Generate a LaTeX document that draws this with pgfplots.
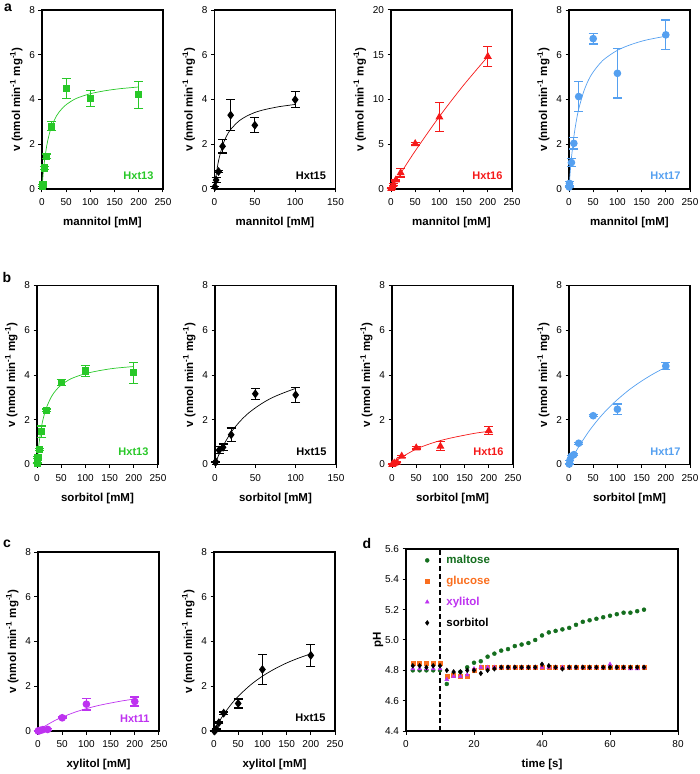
\documentclass[border=0pt]{standalone}
\usepackage{pgfplots}
\pgfplotsset{compat=1.18}
\usepackage{fontspec}
\setmainfont{Liberation Sans}
\definecolor{cgreen}{RGB}{40,200,40}
\definecolor{cblue}{RGB}{85,160,240}
\definecolor{cred}{RGB}{245,25,25}
\definecolor{cpurple}{RGB}{190,50,240}
\definecolor{cdgreen}{RGB}{20,110,30}
\definecolor{corange}{RGB}{250,110,30}
\pgfplotsset{
  base/.style={
    scale only axis, anchor=south west, clip=false,
    axis line style={line width=1.2pt},
    tick align=outside, xtick pos=bottom, ytick pos=left, major tick length=3.5pt,
    every tick/.style={line width=1pt, black},
    tick label style={font=\fontsize{10}{12}\selectfont},
    /pgf/number format/assume math mode=true,
    label style={font=\bfseries\fontsize{11.5}{13}\selectfont},
    xticklabel style={yshift=-2.5pt},
    xlabel style={yshift=-5pt},
  },
  kin/.style={
    base, width=121pt, height=179pt,
    xmin=0, xmax=250, xtick={0,50,100,150,200,250},
    ymin=0, ymax=8, ytick={0,2,4,6,8},
    ylabel={v (nmol min\textsuperscript{-1} mg\textsuperscript{-1})},
  },
  pts/.style={only marks, line width=1.2pt, mark options={solid},
    /pgfplots/error bars/y dir=both, /pgfplots/error bars/y explicit,
    /pgfplots/error bars/error bar style={line width=1.2pt},
    /pgfplots/error bars/error mark options={rotate=90, line width=1.2pt, mark size=4.5pt}},
  fit/.style={line width=0.7pt, smooth, no marks},
}
\newcommand{\hxt}[2]{\node[anchor=south east, font=\bfseries\fontsize{11}{13}\selectfont, text=#1] at (rel axis cs:0.95,0.03) {#2};}
\begin{document}
\begin{tikzpicture}
\path[use as bounding box] (0pt,0pt) rectangle (700pt,774pt);
\node[font=\bfseries\fontsize{14}{16}\selectfont] at (8pt,766pt) {a};
\node[font=\bfseries\fontsize{14}{16}\selectfont] at (7pt,496pt) {b};
\node[font=\bfseries\fontsize{14}{16}\selectfont] at (7pt,230pt) {c};
\node[font=\bfseries\fontsize{14}{16}\selectfont] at (367pt,231pt) {d};

% ---------------- row a: mannitol
\begin{axis}[kin, at={(42pt,585pt)}, xlabel={mannitol [mM]}]
\addplot[cgreen, pts, mark=square*, mark size=3pt] table[y error index=2] {
1 0.12 0
2 0.19 0
5 0.94 0.08
10 1.46 0.1
20 2.80 0.2
50 4.48 0.45
100 4.05 0.37
200 4.21 0.6
};
\addplot[cgreen, fit] coordinates {(0,0)(2,0.58)(5,1.23)(10,1.96)(15,2.45)(20,2.80)(30,3.27)(40,3.56)(50,3.77)(70,4.04)(100,4.26)(130,4.39)(160,4.48)(200,4.56)};
\hxt{cgreen}{Hxt13}
\end{axis}

\begin{axis}[kin, at={(214.5pt,585pt)}, xmax=150, xtick={0,50,100,150}, xlabel={mannitol [mM]}]
\addplot[black, pts, mark=diamond*, mark size=3.5pt] table[y error index=2] {
0.5 0.1 0
2 0.4 0.12
5 0.78 0.06
10 1.91 0.3
20 3.3 0.7
50 2.85 0.34
100 3.99 0.35
};
\addplot[black, fit] coordinates {(0,0)(2,0.61)(5,1.26)(10,1.94)(15,2.37)(20,2.66)(30,3.03)(40,3.26)(50,3.42)(60,3.53)(70,3.61)(80,3.68)(90,3.73)(100,3.78)};
\hxt{black}{Hxt15}
\end{axis}

\begin{axis}[kin, at={(391pt,585pt)}, ymax=20, ytick={0,5,10,15,20}, xlabel={mannitol [mM]}]
\addplot[cred, pts, mark=triangle*, mark size=3.5pt] table[y error index=2] {
0.5 0.05 0
2 0.2 0
5 0.5 0.1
10 1.0 0.1
20 1.8 0.45
50 5.06 0.15
100 8.03 1.6
200 14.8 1.1
};
\addplot[cred, fit] coordinates {(0,0)(10,0.89)(20,1.75)(50,4.25)(100,8.1)(150,11.6)(200,14.8)};
\hxt{cred}{Hxt16}
\end{axis}

\begin{axis}[kin, at={(569pt,585pt)}, xlabel={mannitol [mM]}]
\addplot[cblue, pts, mark=*, mark size=3.2pt] table[y error index=2] {
0.5 0.09 0
1 0.25 0.1
5 1.18 0.17
10 2.04 0.25
20 4.13 0.67
50 6.72 0.24
100 5.17 1.1
200 6.89 0.66
};
\addplot[cblue, fit] coordinates {(0,0)(2,0.62)(5,1.38)(10,2.33)(15,3.03)(20,3.57)(30,4.33)(40,4.86)(50,5.23)(70,5.75)(100,6.2)(130,6.47)(160,6.66)(200,6.83)};
\hxt{cblue}{Hxt17}
\end{axis}

% ---------------- row b: sorbitol
\begin{axis}[kin, at={(37pt,309.5pt)}, xlabel={sorbitol [mM]}]
\addplot[cgreen, pts, mark=square*, mark size=3pt] table[y error index=2] {
0.5 0.05 0
1 0.1 0
2 0.31 0.05
5 0.68 0.05
10 1.46 0.26
20 2.42 0.06
50 3.66 0.13
100 4.18 0.26
200 4.1 0.47
};
\addplot[cgreen, fit] coordinates {(0,0)(2,0.5)(5,1.08)(10,1.77)(15,2.23)(20,2.57)(30,3.04)(40,3.34)(50,3.55)(70,3.83)(100,4.06)(130,4.2)(160,4.3)(200,4.38)};
\hxt{cgreen}{Hxt13}
\end{axis}

\begin{axis}[kin, at={(215pt,309.5pt)}, xmax=150, xtick={0,50,100,150}, xlabel={sorbitol [mM]}]
\addplot[black, pts, mark=diamond*, mark size=3.5pt] table[y error index=2] {
0.5 0.1 0
1 0.12 0
5 0.64 0.15
10 0.77 0.15
20 1.33 0.3
50 3.16 0.25
100 3.11 0.33
};
\addplot[black, fit] coordinates {(0,0)(5,0.46)(10,0.83)(20,1.44)(30,1.89)(40,2.25)(50,2.53)(60,2.77)(70,2.97)(80,3.13)(90,3.27)(100,3.4)};
\hxt{black}{Hxt15}
\end{axis}

\begin{axis}[kin, at={(392pt,309.5pt)}, xlabel={sorbitol [mM]}]
\addplot[cred, pts, mark=triangle*, mark size=3.5pt] table[y error index=2] {
0.5 0 0
2 0.03 0
5 0.06 0
10 0.1 0.02
20 0.37 0.05
50 0.74 0.05
100 0.81 0.2
200 1.51 0.18
};
\addplot[cred, fit] coordinates {(0,0)(10,0.18)(20,0.33)(50,0.69)(75,0.9)(100,1.07)(125,1.2)(150,1.31)(175,1.41)(200,1.48)};
\hxt{cred}{Hxt16}
\end{axis}

\begin{axis}[kin, at={(569pt,309.5pt)}, xlabel={sorbitol [mM]}]
\addplot[cblue, pts, mark=*, mark size=3.2pt] table[y error index=2] {
0.5 0.02 0
2 0.19 0
5 0.37 0.05
10 0.44 0.05
20 0.95 0.05
50 2.18 0.05
100 2.47 0.23
200 4.4 0.16
};
\addplot[cblue, fit] coordinates {(0,0)(10,0.41)(20,0.79)(40,1.45)(60,2.01)(80,2.49)(100,2.9)(125,3.35)(150,3.73)(175,4.06)(200,4.35)};
\hxt{cblue}{Hxt17}
\end{axis}

% ---------------- row c: xylitol
\begin{axis}[kin, at={(38pt,43pt)}, xlabel={xylitol [mM]}]
\addplot[cpurple, pts, mark=*, mark size=3.2pt] table[y error index=2] {
0.5 0 0
2 0.01 0
5 0.03 0
10 0.06 0
20 0.07 0.03
50 0.59 0.04
100 1.2 0.26
200 1.32 0.2
};
\addplot[cpurple, fit] coordinates {(0,0)(10,0.16)(20,0.29)(35,0.47)(50,0.62)(75,0.83)(100,1.0)(125,1.14)(150,1.25)(175,1.35)(200,1.43)};
\hxt{cpurple}{Hxt11}
\end{axis}

\begin{axis}[kin, at={(214pt,43pt)}, xlabel={xylitol [mM]}]
\addplot[black, pts, mark=diamond*, mark size=3.5pt] table[y error index=2] {
0.5 0 0
2 0.02 0
5 0.09 0
10 0.37 0.03
20 0.8 0.05
50 1.23 0.2
100 2.75 0.66
200 3.38 0.49
};
\addplot[black, fit] coordinates {(0,0)(10,0.39)(20,0.74)(35,1.18)(50,1.55)(75,2.05)(100,2.45)(125,2.77)(150,3.04)(175,3.26)(200,3.45)};
\hxt{black}{Hxt15}
\end{axis}

% ---------------- panel d: pH
\begin{axis}[base, at={(406pt,43pt)}, width=272pt, height=182pt,
  xmin=0, xmax=80, xtick={0,20,40,60,80},
  ymin=4.4, ymax=5.6, ytick={4.4,4.6,4.8,5.0,5.2,5.4,5.6},
  yticklabel style={/pgf/number format/.cd, fixed, fixed zerofill, precision=1},
  xlabel={time [s]}, ylabel={pH}, ylabel style={yshift=-5pt},
  legend image code/.code={\path (-9pt,0pt) (17pt,0pt); \draw[#1] plot coordinates {(0pt,0pt)};},
  legend style={at={(axis cs:2.6,5.585)}, anchor=north west, draw=none, fill=none,
    font=\bfseries\fontsize{11.5}{13}\selectfont, row sep=7pt},
  legend cell align=left]
\addplot[cdgreen, only marks, mark=*, mark size=2pt] coordinates {
(2,4.80)(4,4.80)(6,4.80)(8,4.80)(10,4.80)(12,4.71)(14,4.78)(16,4.79)(18,4.82)(20,4.85)
(22,4.86)(24,4.89)(26,4.91)(28,4.93)(30,4.94)(32,4.96)(34,4.97)(36,4.98)(38,5.00)(40,5.03)
(42,5.05)(44,5.06)(46,5.07)(48,5.08)(50,5.10)(52,5.12)(54,5.13)(56,5.14)(58,5.15)(60,5.16)
(62,5.17)(64,5.18)(66,5.18)(68,5.19)(70,5.20)};
\addlegendentry{\textcolor{cdgreen}{maltose}}
\addplot[corange, only marks, mark=square*, mark size=2pt] coordinates {
(2,4.85)(4,4.85)(6,4.85)(8,4.85)(10,4.85)(12,4.76)(14,4.77)(16,4.76)(18,4.76)(20,4.80)
(22,4.82)(24,4.82)(26,4.82)(28,4.82)(30,4.82)(32,4.82)(34,4.82)(36,4.82)(38,4.82)(40,4.82)
(42,4.82)(44,4.82)(46,4.82)(48,4.82)(50,4.82)(52,4.82)(54,4.82)(56,4.82)(58,4.82)(60,4.82)
(62,4.82)(64,4.82)(66,4.82)(68,4.82)(70,4.82)};
\addlegendentry{\textcolor{corange}{glucose}}
\addplot[cpurple, only marks, mark=triangle*, mark size=2.3pt] coordinates {
(2,4.81)(4,4.81)(6,4.81)(8,4.81)(10,4.81)(12,4.74)(14,4.76)(16,4.76)(18,4.77)(20,4.81)
(22,4.82)(24,4.82)(26,4.82)(28,4.82)(30,4.82)(32,4.82)(34,4.82)(36,4.82)(38,4.82)(40,4.82)
(42,4.82)(44,4.82)(46,4.82)(48,4.82)(50,4.82)(52,4.82)(54,4.82)(56,4.82)(58,4.82)(60,4.84)
(62,4.82)(64,4.82)(66,4.81)(68,4.81)(70,4.82)};
\addlegendentry{\textcolor{cpurple}{xylitol}}
\addplot[black, only marks, mark=diamond*, mark size=2.4pt] coordinates {
(2,4.83)(4,4.83)(6,4.82)(8,4.83)(10,4.83)(12,4.80)(14,4.79)(16,4.79)(18,4.80)(20,4.80)
(22,4.78)(24,4.80)(26,4.81)(28,4.82)(30,4.82)(32,4.82)(34,4.82)(36,4.82)(38,4.82)(40,4.84)
(42,4.83)(44,4.82)(46,4.81)(48,4.82)(50,4.82)(52,4.82)(54,4.82)(56,4.82)(58,4.82)(60,4.82)
(62,4.82)(64,4.82)(66,4.82)(68,4.82)(70,4.82)};
\addlegendentry{\textcolor{black}{sorbitol}}
\addplot[black, line width=1.1pt, dash pattern=on 5pt off 3pt, forget plot] coordinates {(10,4.4)(10,5.6)};
\end{axis}
\end{tikzpicture}
\end{document}
